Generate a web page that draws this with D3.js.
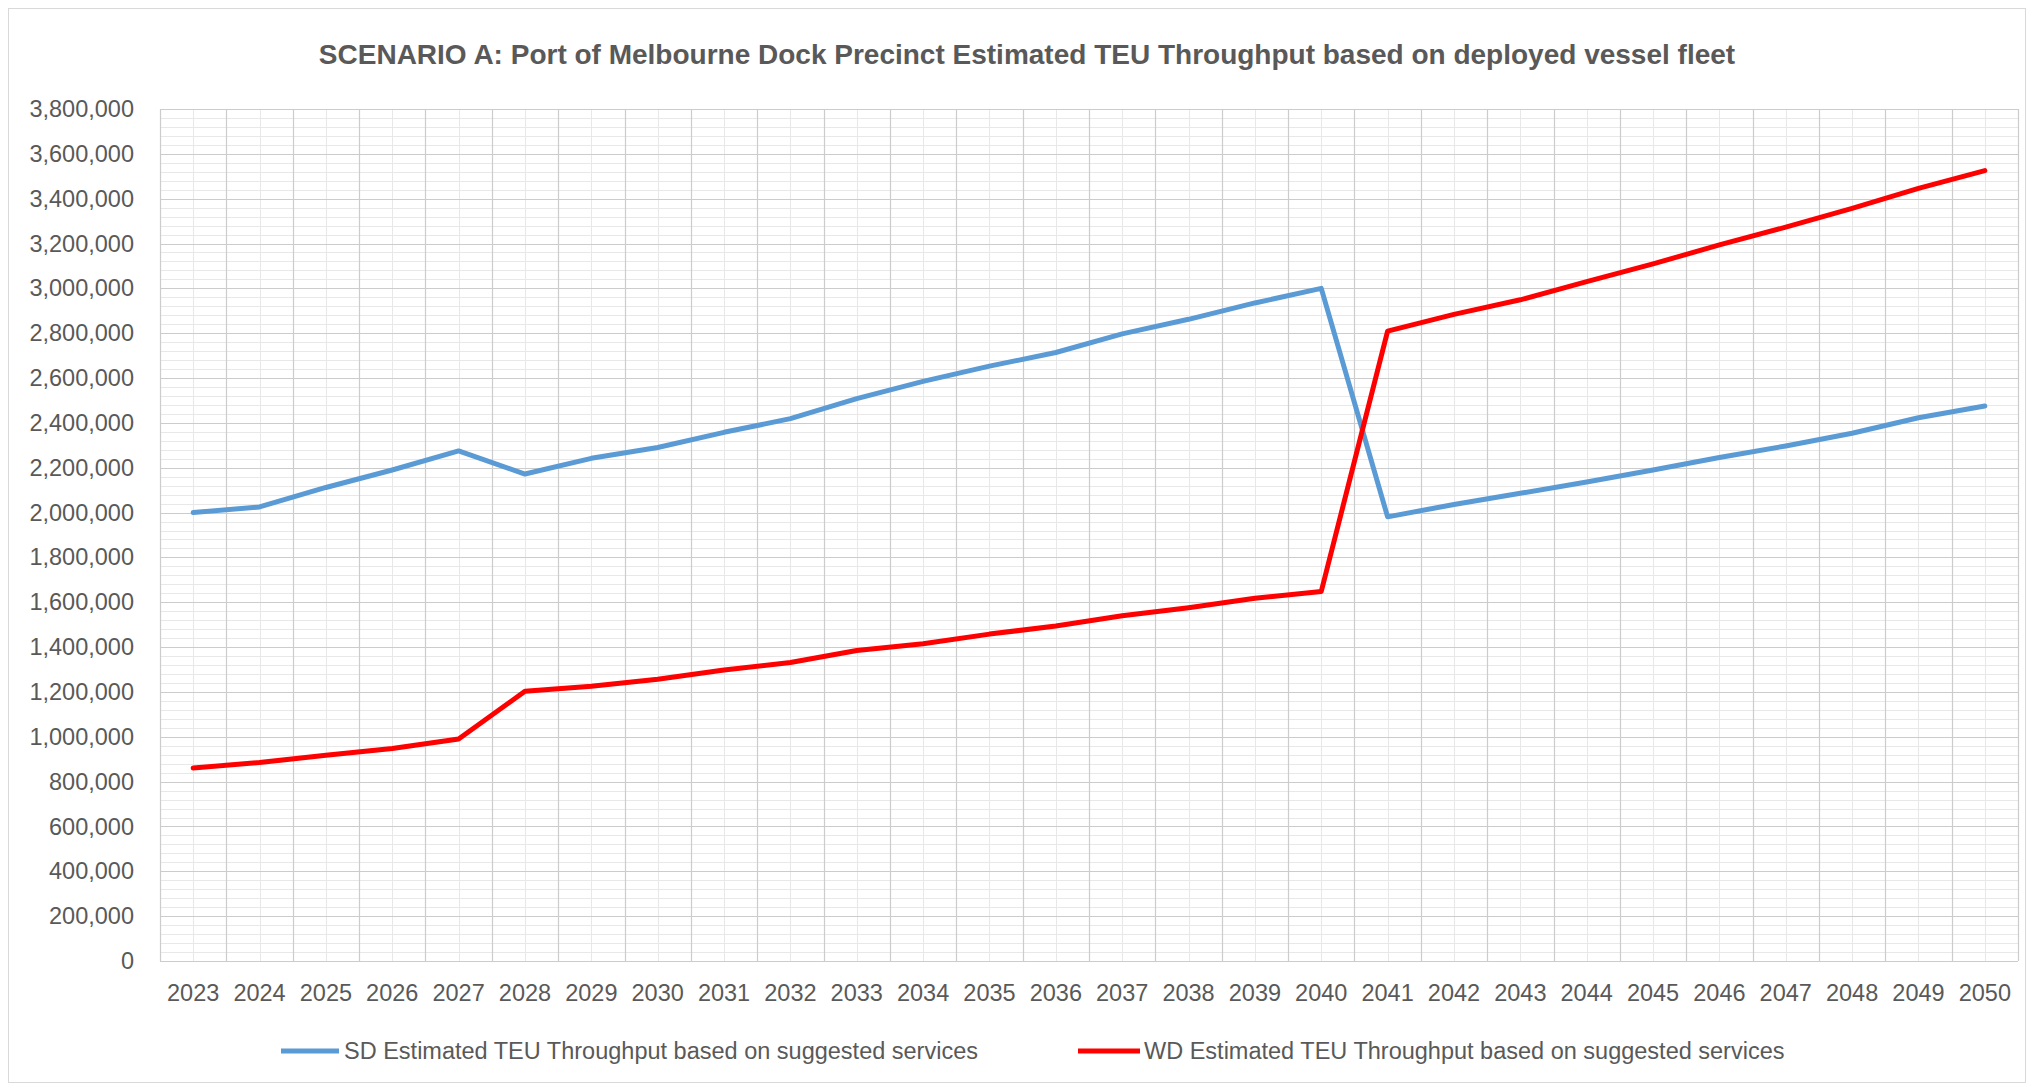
<!DOCTYPE html>
<html>
<head>
<meta charset="utf-8">
<script src="https://cdn.jsdelivr.net/npm/d3@7/dist/d3.min.js"></script>
<style>
  html, body { margin: 0; padding: 0; background: #fff; }
  svg { display: block; }
  text { font-family: "Liberation Sans", Arial, sans-serif; fill: #595959; }
</style>
</head>
<body>
<svg id="chart" width="2031" height="1088"></svg>
<script>
// ---- Data ----
const years = [2023,2024,2025,2026,2027,2028,2029,2030,2031,2032,2033,2034,2035,2036,2037,2038,2039,2040,2041,2042,2043,2044,2045,2046,2047,2048,2049,2050];
const sdValues = [2000000,2025000,2112000,2190000,2275000,2172000,2242000,2290000,2358000,2419000,2508000,2585000,2653000,2714000,2797000,2862000,2935000,3000000,1981000,2036000,2086000,2136000,2190000,2246000,2297000,2354000,2423000,2475000];
const wdValues = [861000,885000,918000,948000,990000,1203000,1225000,1257000,1298000,1331000,1385000,1415000,1458000,1494000,1540000,1576000,1618000,1648000,2809000,2884000,2949000,3030000,3109000,3194000,3273000,3357000,3446000,3525000];
const yTicks = [0,200000,400000,600000,800000,1000000,1200000,1400000,1600000,1800000,2000000,2200000,2400000,2600000,2800000,3000000,3200000,3400000,3600000,3800000];
const titleText = "SCENARIO A: Port of Melbourne Dock Precinct Estimated TEU Throughput based on deployed vessel fleet";
const seriesNames = ["SD Estimated TEU Throughput based on suggested services", "WD Estimated TEU Throughput based on suggested services"];
const seriesColors = ["#5b9bd5", "#ff0000"];

// ---- Layout ----
const W = 2031, H = 1088;
const plot = { left: 160, right: 2018, top: 109, bottom: 961 };

const svg = d3.select("#chart");

// outer border
svg.append("rect")
  .attr("x", 8.5).attr("y", 8.5)
  .attr("width", W - 14).attr("height", H - 14)
  .attr("fill", "#fff").attr("stroke", "#d9d9d9").attr("stroke-width", 1);

const x = d3.scaleBand().domain(years).range([plot.left, plot.right]).padding(0);
const y = d3.scaleLinear().domain([0, 3800000]).range([plot.bottom, plot.top]);

const grid = svg.append("g");

// minor horizontal gridlines every 40,000
const minorY = d3.range(0, 3800001, 40000).filter(v => v % 200000 !== 0);
grid.selectAll("line.minh").data(minorY).join("line")
  .attr("x1", plot.left).attr("x2", plot.right)
  .attr("y1", d => Math.round(y(d)) + 0.5).attr("y2", d => Math.round(y(d)) + 0.5)
  .attr("stroke", "#e8e8e8").attr("stroke-width", 1);

// minor vertical gridlines at category centres
grid.selectAll("line.minv").data(years).join("line")
  .attr("x1", d => Math.round(x(d) + x.bandwidth() / 2) + 0.5)
  .attr("x2", d => Math.round(x(d) + x.bandwidth() / 2) + 0.5)
  .attr("y1", plot.top).attr("y2", plot.bottom)
  .attr("stroke", "#e8e8e8").attr("stroke-width", 1);

// major horizontal gridlines
grid.selectAll("line.majh").data(yTicks).join("line")
  .attr("x1", plot.left).attr("x2", plot.right)
  .attr("y1", d => Math.round(y(d)) + 0.5).attr("y2", d => Math.round(y(d)) + 0.5)
  .attr("stroke", "#cccccc").attr("stroke-width", 1.2);

// major vertical gridlines at category boundaries
const bounds = years.map(d => x(d)).concat([plot.right]);
grid.selectAll("line.majv").data(bounds).join("line")
  .attr("x1", d => Math.round(d) + 0.5).attr("x2", d => Math.round(d) + 0.5)
  .attr("y1", plot.top).attr("y2", plot.bottom)
  .attr("stroke", "#cccccc").attr("stroke-width", 1.2);

// y axis labels
const yAxis = d3.axisLeft(y).tickValues(yTicks).tickFormat(d3.format(",")).tickSize(0).tickPadding(0);
const gy = svg.append("g").attr("transform", "translate(134,0)").call(yAxis);
gy.select(".domain").remove();
gy.selectAll("text").attr("font-size", 23.5).attr("fill", "#595959")
  .style("font-family", '"Liberation Sans", Arial, sans-serif');

// x axis labels
const xAxis = d3.axisBottom(x).tickSize(0).tickPadding(0);
const gx = svg.append("g").attr("transform", `translate(0,${plot.bottom + 23})`).call(xAxis);
gx.select(".domain").remove();
gx.selectAll("text").attr("font-size", 23.5).attr("fill", "#595959")
  .style("font-family", '"Liberation Sans", Arial, sans-serif');

// lines
const line = d3.line()
  .x((d, i) => x(years[i]) + x.bandwidth() / 2)
  .y(d => y(d));

[sdValues, wdValues].forEach((vals, i) => {
  svg.append("path")
    .datum(vals)
    .attr("d", line)
    .attr("fill", "none")
    .attr("stroke", seriesColors[i])
    .attr("stroke-width", 5)
    .attr("stroke-linejoin", "round")
    .attr("stroke-linecap", "round");
});

// title
svg.append("text")
  .attr("x", 1027).attr("y", 64)
  .attr("text-anchor", "middle")
  .attr("font-size", 28).attr("font-weight", "bold")
  .attr("fill", "#595959")
  .text(titleText);

// legend
const legendItems = [
  { x1: 281, x2: 339, tx: 344 },
  { x1: 1078, x2: 1140, tx: 1144 }
];
const lg = svg.append("g");
legendItems.forEach((it, i) => {
  lg.append("line")
    .attr("x1", it.x1).attr("x2", it.x2)
    .attr("y1", 1051).attr("y2", 1051)
    .attr("stroke", seriesColors[i]).attr("stroke-width", 5);
  lg.append("text")
    .attr("x", it.tx).attr("y", 1059)
    .attr("font-size", 23.5).attr("fill", "#595959")
    .text(seriesNames[i]);
});
</script>
</body>
</html>
